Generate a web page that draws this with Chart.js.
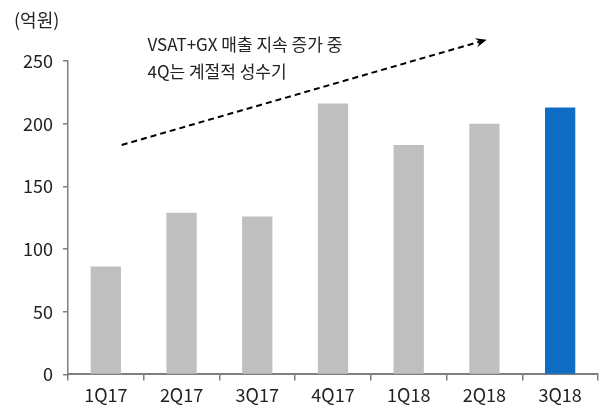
<!DOCTYPE html>
<html>
<head>
<meta charset="utf-8">
<script src="https://cdn.jsdelivr.net/npm/chart.js@4"></script>
<style>
  html, body { margin: 0; padding: 0; background: #fff; }
  #wrap { width: 605px; height: 407px; position: relative; }
</style>
</head>
<body>
<div id="wrap"><canvas id="chart"></canvas></div>
<script>
// values (억원)
const quarters = ['1Q17', '2Q17', '3Q17', '4Q17', '1Q18', '2Q18', '3Q18'];
const sales = [86, 129, 126, 216, 183, 200, 213];
const barColors = ['#bfbfbf', '#bfbfbf', '#bfbfbf', '#bfbfbf', '#bfbfbf', '#bfbfbf', '#0f6dc4'];
const yTicks = [0, 50, 100, 150, 200, 250];
const unitLabel = '(억원)';
const noteLines = ['VSAT+GX 매출 지속 증가 중', '4Q는 계절적 성수기'];
// trend arrow, in axis units: [category index, value]
const arrowFrom = [0.21, 183];
const arrowTo = [5.03, 267];

const FONT = "'Noto Sans CJK KR', 'Noto Sans', sans-serif";
const textColor = '#222';
const axisColor = '#7f7f7f';

const overlay = {
  id: 'overlay',
  afterDraw(chart) {
    const ctx = chart.ctx;
    const xs = chart.scales.x, ys = chart.scales.y;
    ctx.save();
    ctx.fillStyle = textColor;
    ctx.font = '18px ' + FONT;
    ctx.textBaseline = 'middle';
    ctx.textAlign = 'left';
    ctx.fillText(unitLabel, 14, 20);

    // note text sits above the arrow's start
    ctx.font = '17px ' + FONT;
    const tx = xs.getPixelForValue(0.55);
    ctx.fillText(noteLines[0], tx, 45);
    ctx.fillText(noteLines[1], tx, 72);

    // dashed arrow
    const x1 = xs.getPixelForValue(arrowFrom[0]), y1 = ys.getPixelForValue(arrowFrom[1]);
    const x2 = xs.getPixelForValue(arrowTo[0]), y2 = ys.getPixelForValue(arrowTo[1]);
    const ang = Math.atan2(y2 - y1, x2 - x1);
    const head = 12;
    ctx.strokeStyle = '#000';
    ctx.lineWidth = 2;
    ctx.setLineDash([6, 4]);
    ctx.beginPath();
    ctx.moveTo(x1, y1);
    ctx.lineTo(x2 - Math.cos(ang) * head * 0.6, y2 - Math.sin(ang) * head * 0.6);
    ctx.stroke();
    ctx.setLineDash([]);
    ctx.fillStyle = '#000';
    ctx.beginPath();
    ctx.moveTo(x2, y2);
    ctx.lineTo(x2 - head * Math.cos(ang - 0.4), y2 - head * Math.sin(ang - 0.4));
    ctx.lineTo(x2 - head * 0.6 * Math.cos(ang), y2 - head * 0.6 * Math.sin(ang));
    ctx.lineTo(x2 - head * Math.cos(ang + 0.4), y2 - head * Math.sin(ang + 0.4));
    ctx.closePath();
    ctx.fill();
    ctx.restore();
  }
};

new Chart(document.getElementById('chart'), {
  type: 'bar',
  data: {
    labels: quarters,
    datasets: [{
      data: sales,
      backgroundColor: barColors,
      barPercentage: 0.4,
      categoryPercentage: 1
    }]
  },
  options: {
    responsive: true,
    maintainAspectRatio: false,
    animation: false,
    layout: { padding: { top: 61, left: 13, right: 7, bottom: -3 } },
    plugins: { legend: { display: false }, tooltip: { enabled: false } },
    scales: {
      x: {
        grid: { offset: true, drawOnChartArea: false, drawTicks: true, tickLength: 6, color: axisColor, lineWidth: 1.5 },
        border: { display: true, color: axisColor, width: 2 },
        ticks: { color: textColor, font: { family: FONT, size: 18 }, padding: 4 }
      },
      y: {
        min: 0,
        max: 250,
        afterBuildTicks(axis) { axis.ticks = yTicks.map(v => ({ value: v })); },
        grid: { drawOnChartArea: false, drawTicks: true, tickLength: 5, color: axisColor, lineWidth: 1.5 },
        border: { display: true, color: axisColor, width: 1.5 },
        ticks: { color: textColor, font: { family: FONT, size: 18 }, padding: 10 }
      }
    }
  },
  plugins: [overlay]
});
</script>
</body>
</html>
